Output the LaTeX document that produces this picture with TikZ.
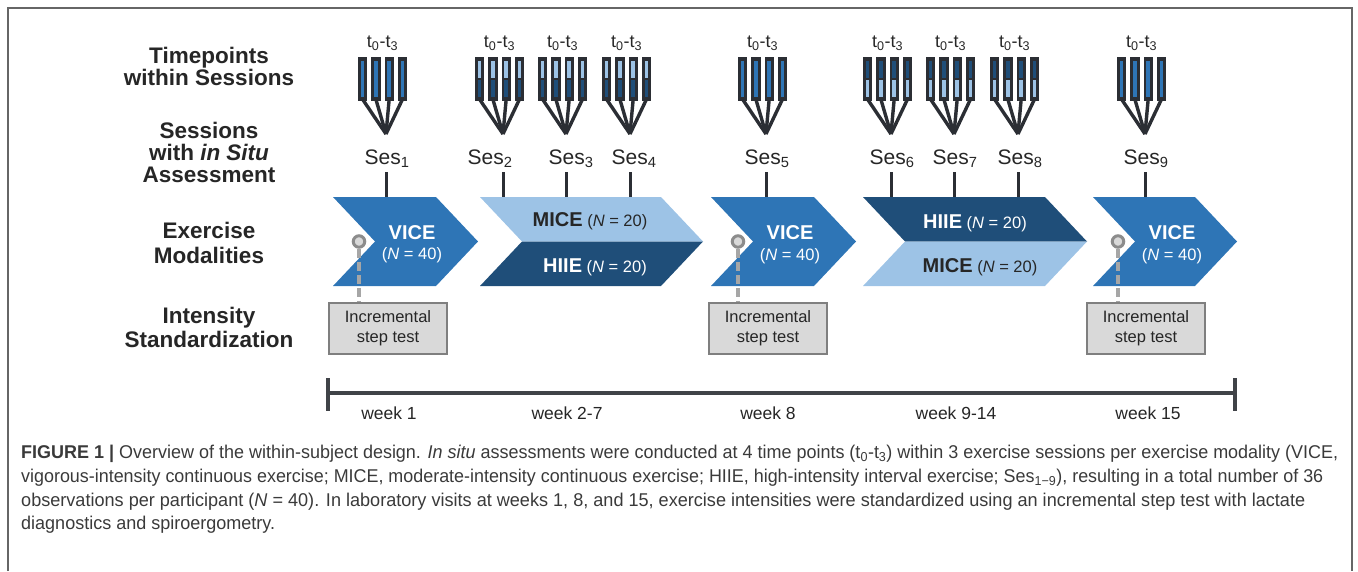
\documentclass[tikz,border=0pt]{standalone}
\usepackage{fontspec}
\setmainfont{Liberation Sans}
\usepackage{graphicx}
\usetikzlibrary{calc}
\definecolor{vice}{HTML}{2E75B6}
\definecolor{navy}{HTML}{1F4E79}
\definecolor{lightb}{HTML}{9DC3E6}
\definecolor{barc}{HTML}{2B2E34}
\definecolor{pingray}{HTML}{8C8C8C}
\definecolor{dashgray}{HTML}{A6A6A6}
\definecolor{boxfill}{HTML}{D9D9D9}
\definecolor{boxline}{HTML}{7F7F7F}
\definecolor{txt}{HTML}{262626}
\definecolor{captxt}{HTML}{3A3A3A}
\definecolor{framec}{HTML}{666666}
\newcommand{\tpicon}[3]{%
  \coordinate (#1-apex) at (#2,134);
  \node[tlab] (#1-t) at (#2-3.5,43) {t\textsubscript{0}-t\textsubscript{3}};
  \foreach \i in {0,...,3}{%
    \pgfmathsetmacro\cx{#2-3.5+(\i-1.5)*13.4}
    \coordinate (#1-c\i) at (\cx,99);
    \draw[barline] (#1-c\i) -- (#1-apex);
  }
  \foreach \i in {0,...,3}{%
    \pgfmathsetmacro\cx{#2-3.5+(\i-1.5)*13.4}
    \node[barbox] (#1-b\i) at (\cx,79) {};
    \ifcase#3
      \fill[vice] (\cx-1.8,61) rectangle (\cx+1.8,97);
    \or
      \fill[lightb] (\cx-1.8,61) rectangle (\cx+1.8,78.3);
      \fill[navy] (\cx-1.8,80.3) rectangle (\cx+1.8,97);
    \or
      \fill[navy] (\cx-1.8,61) rectangle (\cx+1.8,78.3);
      \fill[lightb] (\cx-1.8,80.3) rectangle (\cx+1.8,97);
    \fi
  }
}
\begin{document}
\begin{tikzpicture}[x=1pt,y=-1pt,
  lab/.style={font=\bfseries\fontsize{22.5}{24}\selectfont, text=txt, anchor=base, inner sep=0},
  tlab/.style={font=\fontsize{18}{20}\selectfont, text=txt, inner sep=0},
  seslab/.style={font=\fontsize{21}{24}\selectfont, text=txt, anchor=base, inner sep=0},
  barbox/.style={rectangle, fill=barc, minimum width=9.4pt, minimum height=44pt, inner sep=0, draw=none},
  barline/.style={barc, line width=3.4pt},
  tick/.style={barc, line width=3pt},
  modb/.style={font=\bfseries\fontsize{20}{22}\selectfont, inner sep=0},
  modn/.style={font=\fontsize{16.5}{18}\selectfont, inner sep=0},
  modl/.style={inner sep=0, font=\fontsize{16.5}{18}\selectfont},
  pin/.style={circle, draw=pingray, line width=3pt, fill=boxfill, minimum size=11.5pt, inner sep=0},
  pinline/.style={dashgray, line width=3.4pt, dash pattern=on 9pt off 4pt},
  testbox/.style={rectangle, draw=boxline, fill=boxfill, line width=2.6pt, minimum width=118pt, minimum height=51pt, align=center, font=\fontsize{16.5}{20}\selectfont, text=txt, inner sep=0},
  wk/.style={font=\fontsize{17.5}{20}\selectfont, text=txt, anchor=base, inner sep=0},
  captionline/.style={font=\fontsize{18.5}{22}\selectfont, text=captxt, anchor=base west, inner sep=0},
  tline/.style={barc!90!white, line width=3.6pt}
]
\useasboundingbox (0,0) rectangle (1358,571);
% frame
\draw[framec, line width=2pt] (7.5,571) -- (7.5,8) -- (1352,8) -- (1352,571);

% left labels
\node[lab] (l1a) at (209,63.5) {Timepoints};
\node[lab] (l1b) at (209,85.5) {within Sessions};
\node[lab] (l2a) at (209,138.5) {Sessions};
\node[lab] (l2b) at (209,160.5) {with \textit{in Situ}};
\node[lab] (l2c) at (209,182.5) {Assessment};
\node[lab] (l3a) at (209,238.5) {Exercise};
\node[lab] (l3b) at (209,263.5) {Modalities};
\node[lab] (l4a) at (209,323.5) {Intensity};
\node[lab] (l4b) at (209,347.5) {Standardization};

% timepoint icons
\tpicon{g1}{386}{0}
\tpicon{g2}{503}{1}
\tpicon{g3}{566}{1}
\tpicon{g4}{630}{1}
\tpicon{g5}{766}{0}
\tpicon{g6}{891}{2}
\tpicon{g7}{954}{2}
\tpicon{g8}{1018}{2}
\tpicon{g9}{1145}{0}

% session labels
\node[seslab] (s1) at (387,164.5) {Ses\textsubscript{1}};
\node[seslab] (s2) at (490,164.5) {Ses\textsubscript{2}};
\node[seslab] (s3) at (571,164.5) {Ses\textsubscript{3}};
\node[seslab] (s4) at (634,164.5) {Ses\textsubscript{4}};
\node[seslab] (s5) at (767,164.5) {Ses\textsubscript{5}};
\node[seslab] (s6) at (892,164.5) {Ses\textsubscript{6}};
\node[seslab] (s7) at (955,164.5) {Ses\textsubscript{7}};
\node[seslab] (s8) at (1020,164.5) {Ses\textsubscript{8}};
\node[seslab] (s9) at (1146,164.5) {Ses\textsubscript{9}};

% chevrons
\fill[vice] (333,197) -- (436,197) -- (478,241.5) -- (436,286) -- (333,286) -- (375,241.5) -- cycle;
\fill[lightb] (480,197) -- (661,197) -- (703,241.5) -- (522,241.5) -- cycle;
\fill[navy] (522,241.5) -- (703,241.5) -- (661,286) -- (480,286) -- cycle;
\fill[vice] (711,197) -- (814,197) -- (856,241.5) -- (814,286) -- (711,286) -- (753,241.5) -- cycle;
\fill[navy] (863,197) -- (1045,197) -- (1087,241.5) -- (905,241.5) -- cycle;
\fill[lightb] (905,241.5) -- (1087,241.5) -- (1045,286) -- (863,286) -- cycle;
\fill[vice] (1093,197) -- (1195,197) -- (1237,241.5) -- (1195,286) -- (1093,286) -- (1135,241.5) -- cycle;

% session ticks
\foreach \n/\x in {1/386,2/503,3/566,4/630,5/766,6/891,7/954,8/1018,9/1145}{
  \coordinate (tk\n a) at (\x,172);
  \coordinate (tk\n b) at (\x,197);
  \draw[tick] (tk\n a) -- (tk\n b);
}

% modality labels
\node[modb, text=white] (m1a) at (412,233) {VICE};
\node[modn, text=white] (m1b) at (412,255) {(\textit{N} = 40)};
\node[modl, text=txt] (m2a) at (590,221) {\textbf{\fontsize{20}{22}\selectfont MICE} (\textit{N} = 20)};
\node[modl, text=white] (m2b) at (595,267) {\textbf{\fontsize{20}{22}\selectfont HIIE} (\textit{N} = 20)};
\node[modb, text=white] (m3a) at (790,233) {VICE};
\node[modn, text=white] (m3b) at (790,256) {(\textit{N} = 40)};
\node[modl, text=white] (m4a) at (975,223) {\textbf{\fontsize{20}{22}\selectfont HIIE} (\textit{N} = 20)};
\node[modl, text=txt] (m4b) at (980,267) {\textbf{\fontsize{20}{22}\selectfont MICE} (\textit{N} = 20)};
\node[modb, text=white] (m5a) at (1172,233) {VICE};
\node[modn, text=white] (m5b) at (1172,256) {(\textit{N} = 40)};

% step tests
\node[testbox] (box1) at (388,328.5) {Incremental\\step test};
\node[testbox] (box2) at (768,328.5) {Incremental\\step test};
\node[testbox] (box3) at (1146,328.5) {Incremental\\step test};
\node[pin] (pin1) at (359,241.5) {};
\node[pin] (pin2) at (738,241.5) {};
\node[pin] (pin3) at (1118,241.5) {};
\foreach \k in {1,2,3}{
  \draw[pinline] (pin\k.south) -- (pin\k.south |- box\k.north);
}

% timeline
\coordinate (tl) at (328,393);
\coordinate (tr) at (1235,393);
\coordinate (tlu) at (328,378);
\coordinate (tld) at (328,411);
\coordinate (tru) at (1235,378);
\coordinate (trd) at (1235,411);
\draw[tline] (tl) -- (tr);
\draw[tline] (tlu) -- (tld);
\draw[tline] (tru) -- (trd);
\node[wk] (w1) at (389,419) {week 1};
\node[wk] (w2) at (567,419) {week 2-7};
\node[wk] (w3) at (768,419) {week 8};
\node[wk] (w4) at (956,419) {week 9-14};
\node[wk] (w5) at (1148,419) {week 15};

% caption
\node[captionline] (c1) at (21,458) {\resizebox{1317pt}{\height}{\textbf{FIGURE 1 |} Overview of the within-subject design. \textit{In situ} assessments were conducted at 4 time points (t\textsubscript{0}-t\textsubscript{3}) within 3 exercise sessions per exercise modality (VICE,}};
\node[captionline] (c2) at (21,482) {\resizebox{1302pt}{\height}{vigorous-intensity continuous exercise; MICE, moderate-intensity continuous exercise; HIIE, high-intensity interval exercise; Ses\textsubscript{1−9}), resulting in a total number of 36}};
\node[captionline] (c3) at (21,506) {\resizebox{1284pt}{\height}{observations per participant (\textit{N} = 40). In laboratory visits at weeks 1, 8, and 15, exercise intensities were standardized using an incremental step test with lactate}};
\node[captionline] (c4) at (21,529.5) {\resizebox{254pt}{\height}{diagnostics and spiroergometry.}};
\end{tikzpicture}
\end{document}
